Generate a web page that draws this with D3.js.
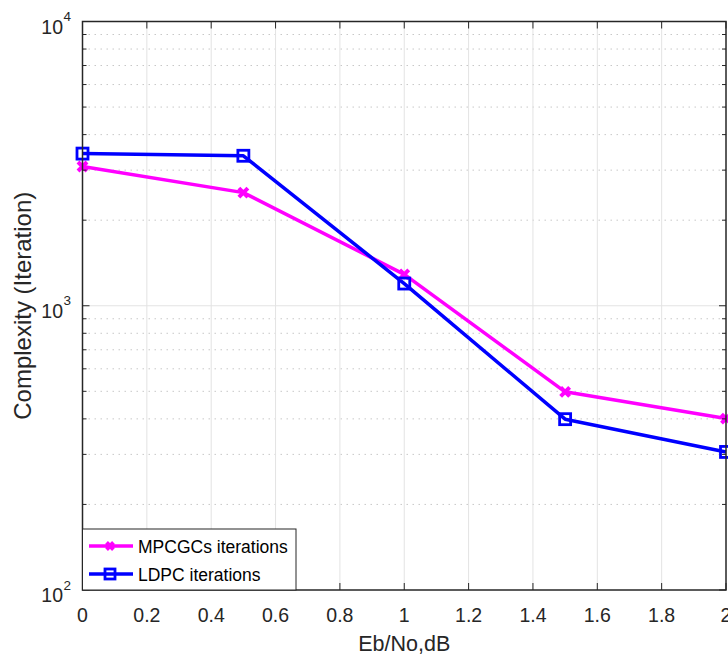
<!DOCTYPE html>
<html><head><meta charset="utf-8">
<script src="https://cdn.jsdelivr.net/npm/d3@7"></script>
<style>body{margin:0;background:#fff}text{font-family:"Liberation Sans",Arial,sans-serif}</style>
</head><body><svg id="c" width="728" height="657"></svg>
<script>
const xValues = [0, 0.5, 1, 1.5, 2];
const mpcgc = [3090, 2500, 1290, 498, 401];
const ldpc = [3430, 3370, 1197, 399, 306];
const xTicks = [0, 0.2, 0.4, 0.6, 0.8, 1, 1.2, 1.4, 1.6, 1.8, 2];
const yMajor = [100, 1000, 10000];
const seriesNames = ["MPCGCs iterations", "LDPC iterations"];

const svg = d3.select("#c");
const L = 82.5, R = 726, T = 21.5, B = 590;
const x = d3.scaleLinear().domain([0, 2]).range([L, R]);
const y = d3.scaleLog().domain([100, 10000]).range([B, T]);
const minor = [];
for (let d = 100; d < 10000; d *= 10) for (let k = 2; k <= 9; k++) minor.push(d * k);

// grid
const g = svg.append("g");
g.selectAll(".mn").data(minor).join("line")
  .attr("x1", L).attr("x2", R).attr("y1", d => y(d)).attr("y2", d => y(d))
  .attr("stroke", "#c8c8c8").attr("stroke-width", 1).attr("stroke-dasharray", "1.5,4.5");
g.selectAll(".vx").data(xTicks.slice(1, -1)).join("line")
  .attr("x1", d => x(d)).attr("x2", d => x(d)).attr("y1", T).attr("y2", B)
  .attr("stroke", "#e3e3e3").attr("stroke-width", 1);
g.append("line").attr("x1", L).attr("x2", R).attr("y1", y(1000)).attr("y2", y(1000))
  .attr("stroke", "#e3e3e3").attr("stroke-width", 1);

// lines
const line = d3.line().x((d, i) => x(xValues[i])).y(d => y(d));
const colors = ["#ff00ff", "#0000ff"];
[mpcgc, ldpc].forEach((s, k) => {
  svg.append("path").datum(s).attr("d", line).attr("fill", "none")
    .attr("stroke", colors[k]).attr("stroke-width", 3.5).attr("stroke-linejoin", "round");
});
function drawX(sel, cx, cy, sz) {
  sel.append("path").attr("d", `M${cx-sz},${cy-sz}L${cx+sz},${cy+sz}M${cx-sz},${cy+sz}L${cx+sz},${cy-sz}`)
    .attr("stroke", colors[0]).attr("stroke-width", 4).attr("fill", "none");
}
function drawSq(sel, cx, cy, sz) {
  sel.append("rect").attr("x", cx - sz).attr("y", cy - sz).attr("width", 2 * sz).attr("height", 2 * sz)
    .attr("stroke", colors[1]).attr("stroke-width", 2.8).attr("fill", "none");
}
mpcgc.forEach((v, i) => drawX(svg, x(xValues[i]), y(v), 4.5));
ldpc.forEach((v, i) => drawSq(svg, x(xValues[i]), y(v), 5.5));

// axes box
const ax = svg.append("g").attr("stroke", "#262626").attr("fill", "none");
ax.append("rect").attr("x", L).attr("y", T).attr("width", R - L).attr("height", B - T).attr("stroke-width", 1.5);
xTicks.forEach(d => {
  ax.append("line").attr("x1", x(d)).attr("x2", x(d)).attr("y1", B).attr("y2", B - 7);
  ax.append("line").attr("x1", x(d)).attr("x2", x(d)).attr("y1", T).attr("y2", T + 7);
});
yMajor.forEach(d => {
  ax.append("line").attr("x1", L).attr("x2", L + 7).attr("y1", y(d)).attr("y2", y(d));
  ax.append("line").attr("x1", R).attr("x2", R - 7).attr("y1", y(d)).attr("y2", y(d));
});
minor.forEach(d => {
  ax.append("line").attr("x1", L).attr("x2", L + 4).attr("y1", y(d)).attr("y2", y(d));
  ax.append("line").attr("x1", R).attr("x2", R - 4).attr("y1", y(d)).attr("y2", y(d));
});

// tick labels
svg.selectAll(".xl").data(xTicks).join("text")
  .attr("x", d => x(d)).attr("y", 622).attr("text-anchor", "middle")
  .attr("font-size", 19.5).attr("fill", "#262626").text(d => d3.format("~g")(d));
yMajor.forEach(d => {
  svg.append("text").attr("x", 63).attr("y", y(d) + 12).attr("text-anchor", "end")
    .attr("font-size", 19.5).attr("fill", "#262626").text("10");
  svg.append("text").attr("x", 63.5).attr("y", y(d) - 0.5).attr("text-anchor", "start")
    .attr("font-size", 13.5).attr("fill", "#262626").text(Math.round(Math.log10(d)));
});
// axis labels
svg.append("text").attr("x", (L + R) / 2).attr("y", 651).attr("text-anchor", "middle")
  .attr("font-size", 21.5).attr("fill", "#262626").text("Eb/No,dB");
svg.append("text").attr("transform", `translate(31,${(T + B) / 2}) rotate(-90)`)
  .attr("text-anchor", "middle").attr("font-size", 24).attr("fill", "#262626")
  .text("Complexity (Iteration)");

// legend
const lg = svg.append("g");
lg.append("rect").attr("x", L).attr("y", 529).attr("width", 296 - L).attr("height", B - 529)
  .attr("fill", "#fff").attr("stroke", "#262626").attr("stroke-width", 1);
const rows = [546, 574];
rows.forEach((ry, k) => {
  lg.append("line").attr("x1", 89).attr("x2", 133).attr("y1", ry).attr("y2", ry)
    .attr("stroke", colors[k]).attr("stroke-width", 3.5);
  if (k === 0) drawX(lg, 110, ry, 3.5); else drawSq(lg, 110, ry, 5);
  lg.append("text").attr("x", 138).attr("y", ry + 7).attr("font-size", 17.5).attr("fill", "#000")
    .text(seriesNames[k]);
});
</script></body></html>
